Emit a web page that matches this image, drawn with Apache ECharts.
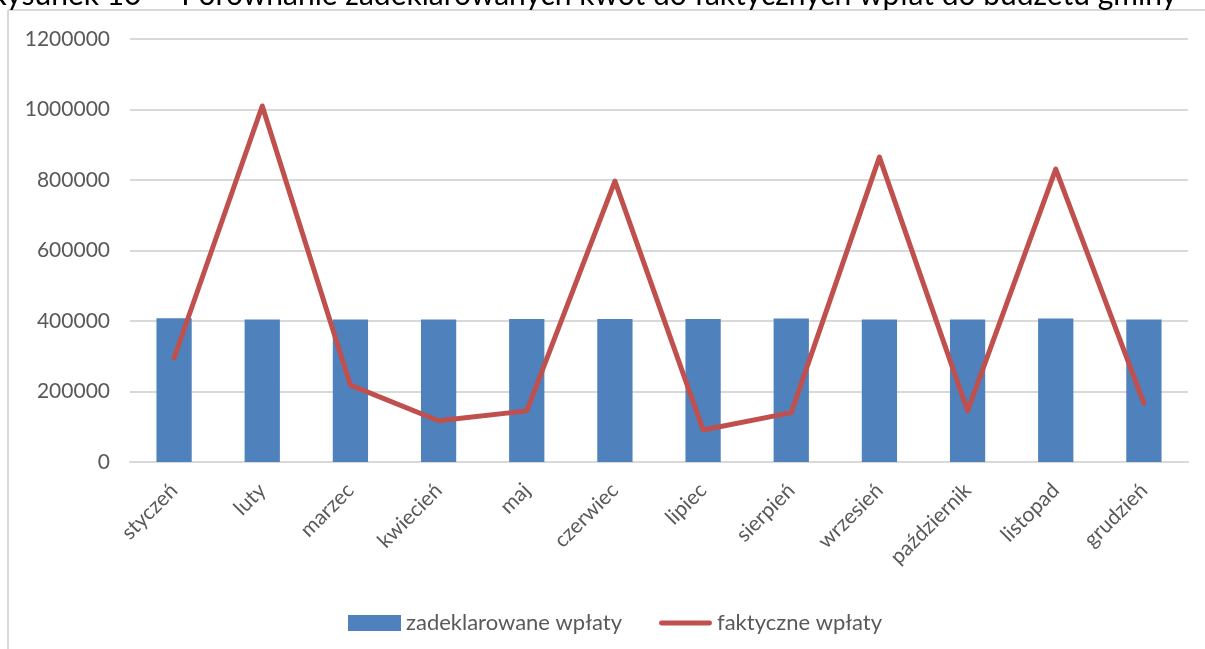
<!DOCTYPE html>
<html>
<head>
<meta charset="utf-8">
<script src="https://cdn.jsdelivr.net/npm/echarts@6/dist/echarts.min.js"></script>
<style>
html,body{margin:0;padding:0;background:#fff;}
#c{width:1205px;height:649px;}
</style>
</head>
<body>
<div id="c"></div>
<script>
const categories = ['styczeń','luty','marzec','kwiecień','maj','czerwiec','lipiec','sierpień','wrzesień','październik','listopad','grudzień'];
const declared = [408000,404000,404000,404000,406000,406000,406000,407000,404000,404000,407000,404000];
const actual = [295000,1010000,218000,117000,145000,797000,91000,140000,865000,145000,831000,166000];
const yTicks = {min:0, max:1200000, interval:200000};
const seriesNames = ['zadeklarowane wpłaty','faktyczne wpłaty'];
const titleLeft = 'Rysunek 10 –';
const titleRight = 'Porównanie zadeklarowanych kwot do faktycznych wpłat do budżetu gminy';

const FONT = 'Lato';
const TXT = '#595959';
const chart = echarts.init(document.getElementById('c'), null, {renderer:'canvas'});
chart.setOption({
  animation:false,
  backgroundColor:'#fff',
  textStyle:{fontFamily:FONT},
  grid:{left:130, right:17, top:39, bottom:187, containLabel:false},
  graphic:[
    {type:'line', shape:{x1:8,y1:10,x2:1205,y2:10}, style:{stroke:'#D9D9D9', lineWidth:2}, silent:true},
    {type:'line', shape:{x1:8,y1:10,x2:8,y2:649}, style:{stroke:'#D9D9D9', lineWidth:2}, silent:true},
    {type:'text', x:-12, y:10, style:{text:titleLeft, font:'30px Lato', fill:'#000', align:'left', verticalAlign:'bottom'}},
    {type:'text', x:1177, y:10, style:{text:titleRight, font:'30px Lato', fill:'#000', align:'right', verticalAlign:'bottom'}}
  ],
  legend:{
    bottom:10, left:343,
    itemGap:37,
    itemWidth:53, itemHeight:16,
    textStyle:{color:TXT, fontSize:22, fontFamily:FONT},
    data:[
      {name:seriesNames[0], icon:'rect'},
      {name:seriesNames[1], icon:'path://M2.5,0 L52.5,0 A2.5,2.5 0 0 1 52.5,5 L2.5,5 A2.5,2.5 0 0 1 2.5,0 Z', itemStyle:{color:'#C0504D'}}
    ]
  },
  xAxis:{
    type:'category', data:categories,
    axisLine:{lineStyle:{color:'#D9D9D9', width:2}},
    axisTick:{show:false},
    axisLabel:{rotate:45, margin:25, color:TXT, fontSize:21, fontFamily:FONT, interval:0}
  },
  yAxis:{
    type:'value', min:yTicks.min, max:yTicks.max, interval:yTicks.interval,
    axisLine:{show:false}, axisTick:{show:false},
    axisLabel:{color:TXT, fontSize:21, fontFamily:FONT, margin:20, formatter:function(v){return String(v);}},
    splitLine:{lineStyle:{color:'#D9D9D9', width:2}}
  },
  series:[
    {name:seriesNames[0], type:'bar', data:declared, barWidth:'40%', itemStyle:{color:'#4F81BD'}},
    {name:seriesNames[1], type:'line', data:actual, symbol:'none', itemStyle:{color:'#C0504D'},
     lineStyle:{color:'#C0504D', width:5, cap:'round', join:'round'}}
  ]
});
</script>
</body>
</html>
